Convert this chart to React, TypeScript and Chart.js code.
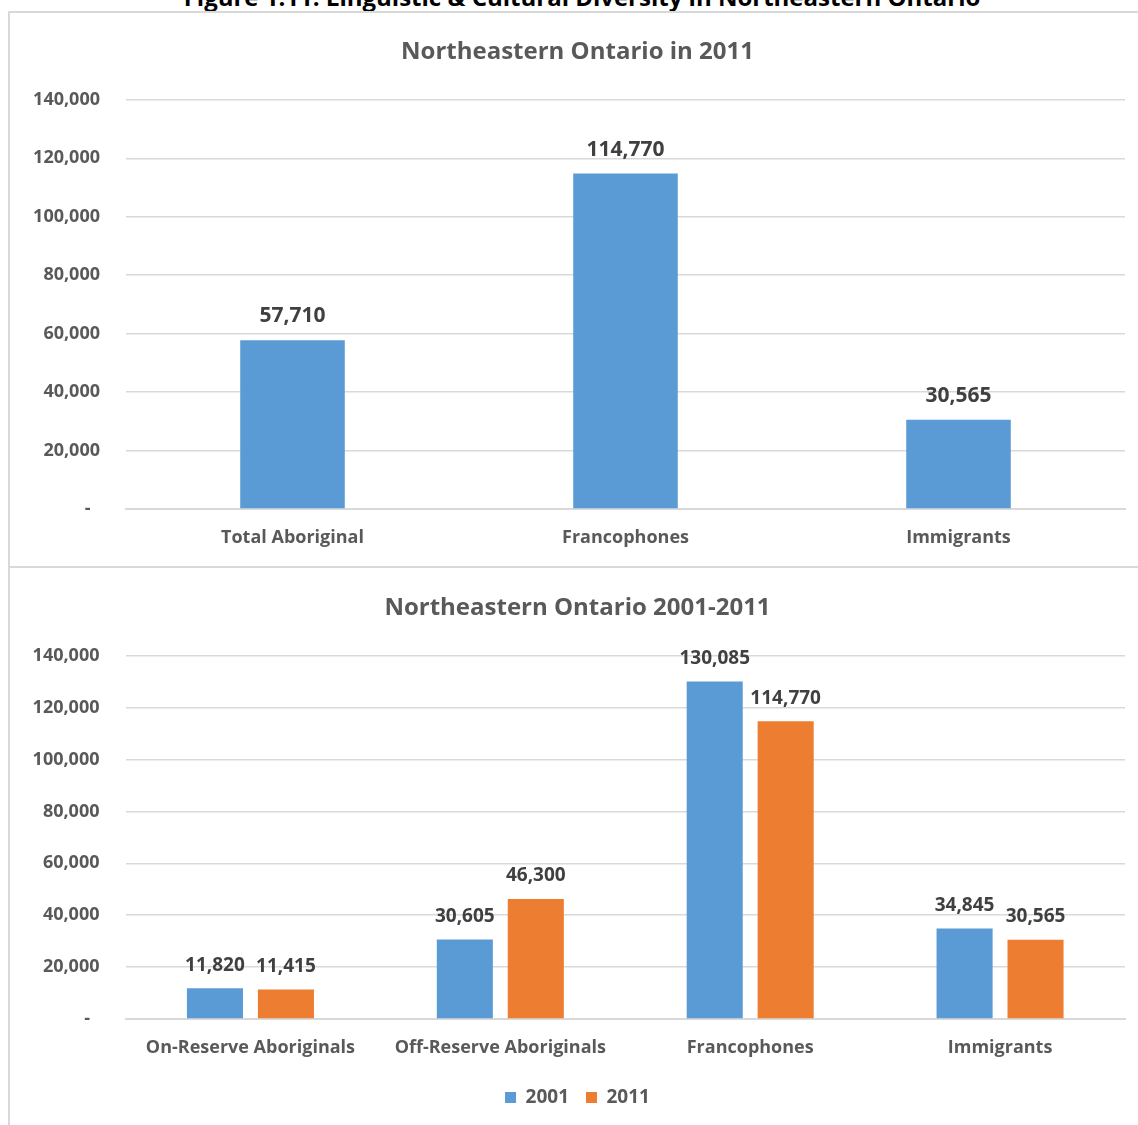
import React, { useEffect, useRef } from "react";
import { Chart, registerables } from "chart.js";

Chart.register(...registerables);

const FIG_TITLE = "Figure 1.11: Linguistic & Cultural Diversity in Northeastern Ontario";

const TOP_TITLE = "Northeastern Ontario in 2011";
const TOP_CATEGORIES = ["Total Aboriginal", "Francophones", "Immigrants"];
const TOP_VALUES = [57710, 114770, 30565];

const BOTTOM_TITLE = "Northeastern Ontario 2001-2011";
const BOTTOM_CATEGORIES = [
  "On-Reserve Aboriginals",
  "Off-Reserve Aboriginals",
  "Francophones",
  "Immigrants",
];
const SERIES_LABELS = ["2001", "2011"];
const VALUES_2001 = [11820, 30605, 130085, 34845];
const VALUES_2011 = [11415, 46300, 114770, 30565];

const Y_MIN = 0;
const Y_MAX = 140000;
const Y_STEP = 20000;

const BLUE = "#5B9BD5";
const ORANGE = "#ED7D31";
const TEXT = "#595959";
const LABEL = "#404040";
const GRID = "#D9D9D9";
const FONT = "'Open Sans', 'DejaVu Sans', sans-serif";

Chart.defaults.font.family = FONT;

const fmt = (v: number) => (v === 0 ? "-  " : Number(v).toLocaleString("en-US"));

const valueLabels = {
  id: "valueLabels",
  afterDatasetsDraw(chart: any, _args: any, opts: any) {
    const ctx = chart.ctx;
    ctx.save();
    ctx.font = `bold ${opts.size}px ${FONT}`;
    ctx.fillStyle = LABEL;
    ctx.textAlign = "center";
    ctx.textBaseline = "middle";
    chart.data.datasets.forEach((ds: any, i: number) => {
      const meta = chart.getDatasetMeta(i);
      meta.data.forEach((el: any, j: number) => {
        ctx.fillText(Number(ds.data[j]).toLocaleString("en-US"), el.x, el.y - opts.offset);
      });
    });
    ctx.restore();
  },
};

function makeOptions(p: {
  title: string;
  padLeft: number;
  yWidth: number;
  xHeight: number;
  titlePad: { top: number; bottom: number };
  legend: boolean;
  labelSize: number;
  labelOffset: number;
  padBottom: number;
}): any {
  return {
    responsive: true,
    maintainAspectRatio: false,
    animation: false,
    layout: { padding: { left: p.padLeft, right: 13, top: 0, bottom: p.padBottom } },
    plugins: {
      title: {
        display: true,
        text: p.title,
        color: TEXT,
        font: { size: 24, weight: "bold", family: FONT },
        padding: p.titlePad,
      },
      legend: {
        display: p.legend,
        position: "bottom",
        labels: {
          boxWidth: 11,
          boxHeight: 11,
          padding: 17,
          color: TEXT,
          font: { size: 19, weight: "bold", family: FONT },
        },
      },
      tooltip: { enabled: false },
      valueLabels: { size: p.labelSize, offset: p.labelOffset },
    },
    scales: {
      x: {
        grid: { display: false },
        border: { display: true, color: GRID, width: 2 },
        ticks: {
          color: TEXT,
          font: { size: 18, weight: "bold", family: FONT },
          padding: 10,
          maxRotation: 0,
          autoSkip: false,
        },
        afterFit: (s: any) => {
          s.height = p.xHeight;
        },
      },
      y: {
        min: Y_MIN,
        max: Y_MAX,
        border: { display: false },
        grid: { color: GRID, lineWidth: 1.5, drawTicks: false },
        ticks: {
          stepSize: Y_STEP,
          color: TEXT,
          font: { size: 18, weight: "bold", family: FONT },
          padding: 26,
          callback: (v: any) => fmt(Number(v)),
        },
        afterFit: (s: any) => {
          s.width = p.yWidth;
        },
      },
    },
  };
}

function ChartBox(props: { config: any; style: React.CSSProperties }) {
  const ref = useRef<HTMLCanvasElement>(null);
  useEffect(() => {
    if (!ref.current) return;
    const chart = new Chart(ref.current, props.config);
    return () => chart.destroy();
  }, []);
  return (
    <div style={{ position: "absolute", ...props.style }}>
      <canvas ref={ref} />
    </div>
  );
}

export default function App() {
  const topConfig = {
    type: "bar",
    data: {
      labels: TOP_CATEGORIES,
      datasets: [
        {
          label: "2011",
          data: TOP_VALUES,
          backgroundColor: BLUE,
          barPercentage: 0.314,
          categoryPercentage: 1,
        },
      ],
    },
    options: makeOptions({
      title: TOP_TITLE,
      padLeft: 20,
      yWidth: 96,
      xHeight: 57,
      titlePad: { top: 25, bottom: 33 },
      legend: false,
      labelSize: 21,
      labelOffset: 24,
      padBottom: 0,
    }),
    plugins: [valueLabels],
  };

  const bottomConfig = {
    type: "bar",
    data: {
      labels: BOTTOM_CATEGORIES,
      datasets: [
        {
          label: SERIES_LABELS[0],
          data: VALUES_2001,
          backgroundColor: BLUE,
          barPercentage: 0.79,
          categoryPercentage: 0.568,
        },
        {
          label: SERIES_LABELS[1],
          data: VALUES_2011,
          backgroundColor: ORANGE,
          barPercentage: 0.79,
          categoryPercentage: 0.568,
        },
      ],
    },
    options: makeOptions({
      title: BOTTOM_TITLE,
      padLeft: 20,
      yWidth: 95.5,
      xHeight: 52,
      titlePad: { top: 26, bottom: 33 },
      legend: true,
      labelSize: 19,
      labelOffset: 23,
      padBottom: 8,
    }),
    plugins: [valueLabels],
  };

  return (
    <div
      style={{
        position: "fixed",
        left: 0,
        top: 0,
        width: 1138,
        height: 1125,
        overflow: "hidden",
        background: "#ffffff",
      }}
    >
      <div
        style={{
          position: "absolute",
          left: 0,
          width: 1164,
          top: -15,
          textAlign: "center",
          fontFamily: FONT,
          fontWeight: "bold",
          fontSize: 24,
          lineHeight: "24px",
          color: "#000000",
          whiteSpace: "nowrap",
        }}
      >
        {FIG_TITLE}
      </div>
      <div
        style={{
          position: "absolute",
          left: 8,
          top: 11,
          width: 1140,
          height: 1120,
          borderLeft: `2px solid ${GRID}`,
          borderTop: `2px solid ${GRID}`,
          boxSizing: "border-box",
        }}
      />
      <div
        style={{
          position: "absolute",
          left: 8,
          top: 566,
          width: 1140,
          height: 2,
          background: GRID,
        }}
      />
      <ChartBox config={topConfig} style={{ left: 10, top: 13, width: 1128, height: 553 }} />
      <ChartBox config={bottomConfig} style={{ left: 10, top: 568, width: 1128, height: 557 }} />
    </div>
  );
}
